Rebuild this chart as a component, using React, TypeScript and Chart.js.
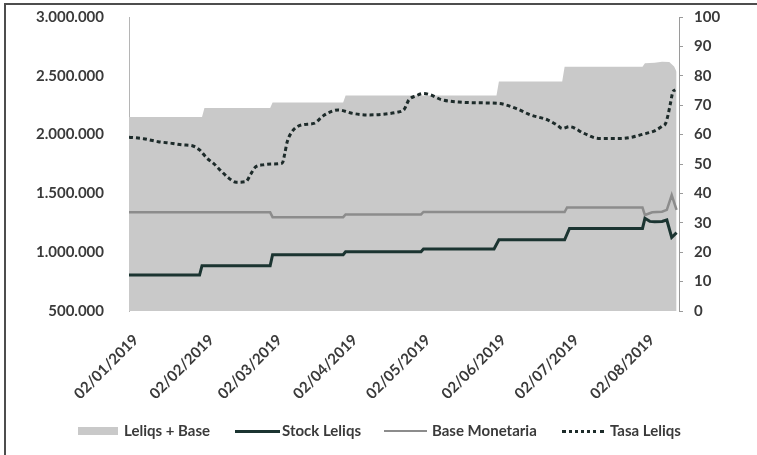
import React, { useEffect, useRef } from "react";
import { Chart, registerables } from "chart.js";

Chart.register(...registerables);

// ---- Data (day offsets counted from 02/01/2019) ----
const xTickDays = [0, 31, 59, 90, 120, 151, 181, 212];
const xTickLabels = [
  "02/01/2019",
  "02/02/2019",
  "02/03/2019",
  "02/04/2019",
  "02/05/2019",
  "02/06/2019",
  "02/07/2019",
  "02/08/2019",
];

const areaDays = [0, 30, 31, 58, 59, 88, 89, 151, 152, 178, 179, 211, 212, 216, 219, 222, 224, 225];
const areaValues = [
  2150000, 2150000, 2226000, 2226000, 2272000, 2272000, 2332000, 2332000, 2451000,
  2451000, 2578000, 2578000, 2606000, 2612000, 2620000, 2618000, 2580000, 2535000,
];

const stockDays = [0, 29, 30, 58, 59, 88, 89, 120, 121, 150, 152, 179, 181, 211, 212, 214, 216, 219, 221, 223, 225];
const stockValues = [
  806000, 806000, 885000, 885000, 978000, 978000, 1004000, 1004000, 1027000, 1027000,
  1105000, 1105000, 1202000, 1202000, 1288000, 1262000, 1259000, 1262000, 1274000,
  1125000, 1166000,
];

const baseDays = [0, 58, 59, 88, 89, 120, 121, 179, 180, 211, 212, 215, 219, 221, 223, 225];
const baseValues = [
  1339000, 1339000, 1298000, 1298000, 1321000, 1321000, 1342000, 1342000, 1380000,
  1380000, 1316000, 1339000, 1344000, 1360000, 1486000, 1359000,
];

const tasaDays = [
  0, 6, 12, 18, 22, 26, 29, 32, 35, 38, 41, 44, 48, 50, 52, 55, 59, 63, 64, 65, 67, 71,
  76, 80, 86, 92, 98, 104, 110, 113, 115, 118, 121, 124, 128, 137, 145, 152, 159, 165,
  172, 176, 178, 181, 187, 193, 202, 207, 211, 216, 219, 220.5, 221.5, 222.5, 223.5, 224.5,
];
const tasaValues = [
  59.1, 58.6, 57.6, 57.0, 56.5, 56.2, 54.8, 52.0, 50.0, 47.5, 45.2, 43.8, 44.0, 46.5,
  49.0, 49.7, 50.0, 50.3, 53.5, 57.5, 61.0, 63.3, 63.8, 66.5, 68.4, 67.2, 66.7, 66.9,
  67.6, 68.5, 71.8, 73.2, 74.0, 73.5, 72.0, 71.0, 70.8, 70.6, 68.9, 66.7, 65.0, 63.2,
  62.1, 62.7, 60.4, 58.7, 58.7, 59.2, 60.1, 61.3, 62.8, 63.8, 66.7, 70.7, 74.6, 75.2,
];

const seriesNames = ["Leliqs + Base", "Stock Leliqs", "Base Monetaria", "Tasa Leliqs"];

const AREA_COLOR = "#c9c9c9";
const STOCK_COLOR = "#1b3431";
const BASE_COLOR = "#8c8c8c";
const TASA_COLOR = "#1d2b2a";
const TEXT_COLOR = "#3a3a3a";
const FONT = "Lato, 'Open Sans', sans-serif";

const pts = (xs: number[], ys: number[]) => xs.map((x, i) => ({ x, y: ys[i] }));
const fmtThousands = (v: number) => String(Math.round(v)).replace(/\B(?=(\d{3})+(?!\d))/g, ".");

export default function App() {
  const canvasRef = useRef<HTMLCanvasElement | null>(null);

  useEffect(() => {
    const canvas = canvasRef.current;
    if (!canvas) return;
    const chart = new Chart(canvas, {
      type: "line",
      data: {
        datasets: [
          {
            label: seriesNames[0],
            data: pts(areaDays, areaValues),
            yAxisID: "y",
            backgroundColor: AREA_COLOR,
            borderColor: AREA_COLOR,
            borderWidth: 0,
            fill: "start",
            pointRadius: 0,
            order: 4,
          },
          {
            label: seriesNames[1],
            data: pts(stockDays, stockValues),
            yAxisID: "y",
            borderColor: STOCK_COLOR,
            borderWidth: 3,
            fill: false,
            pointRadius: 0,
            order: 2,
          },
          {
            label: seriesNames[2],
            data: pts(baseDays, baseValues),
            yAxisID: "y",
            borderColor: BASE_COLOR,
            borderWidth: 2.5,
            fill: false,
            pointRadius: 0,
            order: 3,
          },
          {
            label: seriesNames[3],
            data: pts(tasaDays, tasaValues),
            yAxisID: "y1",
            borderColor: TASA_COLOR,
            borderWidth: 3,
            borderDash: [4, 3],
            cubicInterpolationMode: "monotone",
            fill: false,
            pointRadius: 0,
            order: 1,
          },
        ],
      },
      options: {
        responsive: false,
        animation: false,
        events: [],
        layout: { padding: { top: 17, bottom: 44, left: 0, right: 0 } },
        plugins: { legend: { display: false }, tooltip: { enabled: false } },
        scales: {
          x: {
            type: "linear",
            min: 0,
            max: 226,
            grid: { display: false, drawTicks: false },
            border: { display: false },
            afterBuildTicks: (scale: any) => {
              scale.ticks = xTickDays.map((v) => ({ value: v }));
            },
            afterFit: (scale: any) => {
              scale.height = 100;
              scale.paddingLeft = 0;
              scale.paddingRight = 0;
            },
            ticks: {
              autoSkip: false,
              minRotation: 45,
              maxRotation: 45,
              padding: 20,
              labelOffset: 7,
              color: TEXT_COLOR,
              font: { family: FONT, size: 15, weight: "bold" },
              callback: (v: any) => {
                const i = xTickDays.indexOf(Number(v));
                return i >= 0 ? xTickLabels[i] : "";
              },
            },
          },
          y: {
            position: "left",
            min: 500000,
            max: 3000000,
            grid: { display: false, drawTicks: false },
            border: { display: true, color: "#b5b5b5", width: 1 },
            afterFit: (scale: any) => {
              scale.width = 129;
              scale.paddingTop = 0;
              scale.paddingBottom = 0;
            },
            ticks: {
              stepSize: 500000,
              padding: 25,
              color: TEXT_COLOR,
              font: { family: FONT, size: 15, weight: "bold" },
              callback: (v: any) => fmtThousands(Number(v)),
            },
          },
          y1: {
            position: "right",
            min: 0,
            max: 100,
            grid: { drawOnChartArea: false, drawTicks: true, tickLength: 4, color: "#9a9a9a" },
            border: { display: true, color: "#9a9a9a", width: 1 },
            afterFit: (scale: any) => {
              scale.width = 78;
              scale.paddingTop = 0;
              scale.paddingBottom = 0;
            },
            ticks: {
              stepSize: 10,
              padding: 11,
              color: TEXT_COLOR,
              font: { family: FONT, size: 15, weight: "bold" },
            },
          },
        },
      },
    } as any);

    return () => chart.destroy();
  }, []);

  const legendText: React.CSSProperties = {
    position: "absolute",
    top: 421,
    fontFamily: FONT,
    fontSize: 15,
    fontWeight: 700,
    color: TEXT_COLOR,
    lineHeight: "19px",
    whiteSpace: "nowrap",
  };

  return (
    <div
      style={{
        position: "fixed",
        left: 0,
        top: 0,
        width: 757,
        height: 455,
        background: "#ffffff",
        overflow: "hidden",
      }}
    >
      <canvas
        ref={canvasRef}
        width={757}
        height={455}
        style={{ position: "absolute", left: 0, top: 0, width: 757, height: 455 }}
      />
      {/* frame */}
      <div style={{ position: "absolute", left: 4, top: 3, width: 753, height: 2, background: "#4d4d4d" }} />
      <div style={{ position: "absolute", left: 4, top: 3, width: 2, height: 452, background: "#4d4d4d" }} />
      {/* legend */}
      <div style={{ position: "absolute", left: 78, top: 427, width: 40, height: 8, background: AREA_COLOR }} />
      <div style={{ ...legendText, left: 124 }}>{seriesNames[0]}</div>
      <div style={{ position: "absolute", left: 235, top: 430, width: 45, height: 0, borderTop: `3px solid ${STOCK_COLOR}` }} />
      <div style={{ ...legendText, left: 282 }}>{seriesNames[1]}</div>
      <div style={{ position: "absolute", left: 384, top: 430, width: 43, height: 0, borderTop: `2.5px solid ${BASE_COLOR}` }} />
      <div style={{ ...legendText, left: 432 }}>{seriesNames[2]}</div>
      <div style={{ position: "absolute", left: 562, top: 430, width: 42, height: 0, borderTop: `3px dotted ${TASA_COLOR}` }} />
      <div style={{ ...legendText, left: 610 }}>{seriesNames[3]}</div>
    </div>
  );
}
